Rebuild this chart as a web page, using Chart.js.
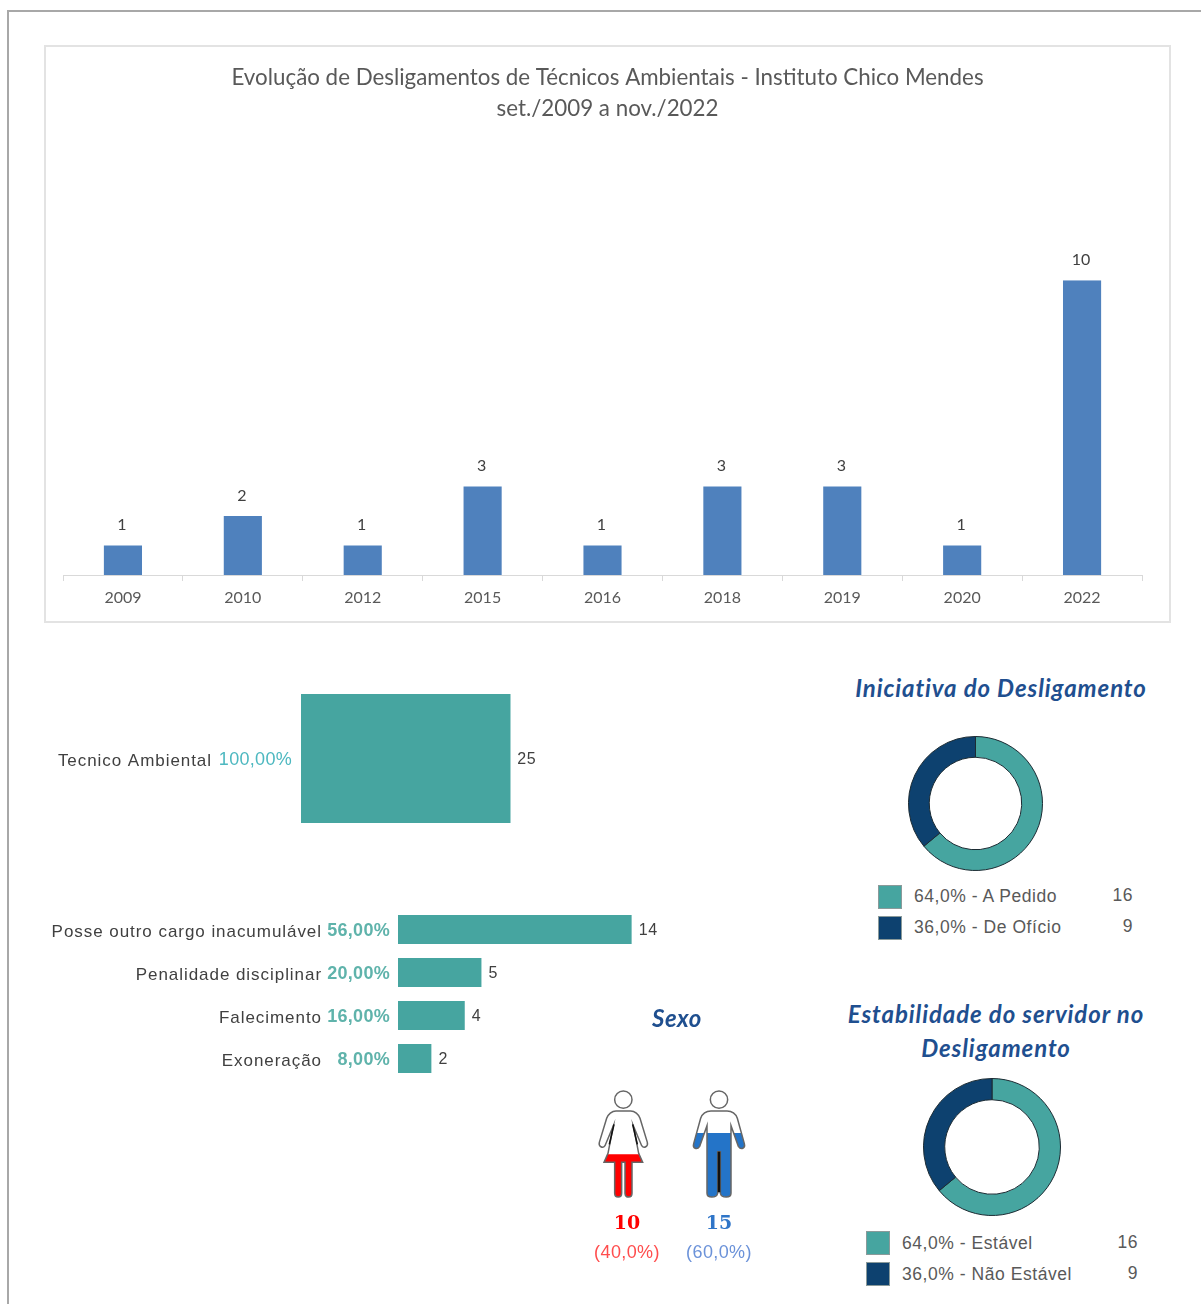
<!DOCTYPE html>
<html lang="pt">
<head>
<meta charset="utf-8">
<title>Desligamentos de Técnicos Ambientais</title>
<script src="https://cdn.jsdelivr.net/npm/chart.js@4/dist/chart.umd.min.js"></script>
<style>
    html, body { margin: 0; background: #fff; }
    body { position: relative; width: 1201px; height: 1304px; overflow: hidden; }
    canvas { position: absolute; }
    .frame { position: absolute; left: 7px; top: 10px; width: 1300px; height: 1400px; border-left: 2px solid #a8a8a8; border-top: 2px solid #a8a8a8; }
    .panel { position: absolute; left: 44px; top: 45px; width: 1123px; height: 574px; border: 2px solid #e3e3e3; }
    .heading { position: absolute; font: italic bold 24px Lato, sans-serif; color: #1f4f8f; text-align: center; line-height: 34px; white-space: nowrap; letter-spacing: 0.9px; }
    .count { position: absolute; text-align: center; white-space: nowrap; }
    .swatch { position: absolute; width: 22px; height: 22px; border: 1px solid #8a9a9a; }
    .leg { position: absolute; font: 17.5px "Liberation Sans", sans-serif; color: #595959; white-space: nowrap; letter-spacing: 0.55px; line-height: 24px; }
</style>
</head>
<body>
<div class="frame"></div>
<div class="panel"></div>

<canvas id="evolucao" style="left:45px;top:46px;width:1125px;height:576px"></canvas>
<canvas id="cargo" style="left:40px;top:680px;width:560px;height:160px"></canvas>
<canvas id="motivos" style="left:40px;top:900px;width:640px;height:190px"></canvas>
<canvas id="iniciativa" style="left:908px;top:736px;width:135px;height:135px"></canvas>
<canvas id="estabilidade" style="left:923px;top:1078px;width:138px;height:138px"></canvas>
<canvas id="mulher" style="left:590px;top:1085px;width:70px;height:118px"></canvas>
<canvas id="homem" style="left:685px;top:1085px;width:70px;height:118px"></canvas>

<div class="heading" style="left:800px;top:671px;width:402px">Iniciativa do Desligamento</div>
<div class="heading" style="left:795px;top:997px;width:402px">Estabilidade do servidor no<br>Desligamento</div>
<div class="heading" style="left:627px;top:1001px;width:100px;letter-spacing:0.5px">Sexo</div>
<div id="legendas"></div>
<div id="sexoTextos"></div>

<script>
// Dados
const anos = ['2009', '2010', '2012', '2015', '2016', '2018', '2019', '2020', '2022'];
const desligamentos = [1, 2, 1, 3, 1, 3, 3, 1, 10];

const cargos = ['Tecnico Ambiental'];
const cargosValores = [25];
const cargosPct = ['100,00%'];

const motivos = ['Posse outro cargo inacumulável', 'Penalidade disciplinar', 'Falecimento', 'Exoneração'];
const motivosValores = [14, 5, 4, 2];
const motivosPct = ['56,00%', '20,00%', '16,00%', '8,00%'];

const iniciativaNomes = ['A Pedido', 'De Ofício'];
const iniciativaValores = [16, 9];
const iniciativaPct = ['64,0%', '36,0%'];

const estabilidadeNomes = ['Estável', 'Não Estável'];
const estabilidadeValores = [16, 9];
const estabilidadePct = ['64,0%', '36,0%'];

const sexoValores = [10, 15];
const sexoPct = [40, 60];
const sexoPctTexto = ['(40,0%)', '(60,0%)'];

const TEAL = '#46a5a0';
const NAVY = '#0d416f';
const AZUL = '#4f81bd';

Chart.defaults.animation = false;
Chart.defaults.responsive = false;
Chart.defaults.plugins.legend.display = false;
Chart.defaults.plugins.tooltip.enabled = false;

// Rótulo de valor em cima das colunas
const rotuloColunas = {
    id: 'rotuloColunas',
    beforeDraw(chart) {
        // título centrado no painel, não na área do gráfico
        chart.titleBlock.left = 0;
        chart.titleBlock.right = chart.width;
    },
    afterDatasetsDraw(chart) {
        const ctx = chart.ctx;
        ctx.save();
        ctx.font = '16px Lato, sans-serif';
        ctx.fillStyle = '#404040';
        ctx.textAlign = 'center';
        ctx.textBaseline = 'middle';
        chart.getDatasetMeta(0).data.forEach((bar, i) => {
            ctx.fillText(desligamentos[i], bar.x - 1, bar.y - 20.5);
        });
        ctx.restore();
    }
};

new Chart(document.getElementById('evolucao'), {
    type: 'bar',
    data: {
        labels: anos,
        datasets: [{ data: desligamentos, backgroundColor: AZUL, barPercentage: 0.318, categoryPercentage: 1 }]
    },
    options: {
        layout: { padding: { left: 18, right: 28 } },
        plugins: {
            title: {
                display: true,
                text: ['Evolução de Desligamentos de Técnicos Ambientais - Instituto Chico Mendes', 'set./2009 a nov./2022'],
                color: '#595959',
                font: { family: 'Lato, sans-serif', size: 22.35, weight: 'normal', lineHeight: 1.39 },
                padding: { top: 16, bottom: 156 }
            }
        },
        scales: {
            y: { display: false, min: 0, max: 10 },
            x: {
                afterFit: s => { s.height = 47; },
                border: { color: '#d9d9d9' },
                grid: { offset: true, drawOnChartArea: false, color: '#d9d9d9', tickLength: 6 },
                ticks: { color: '#595959', padding: 7, font: { family: 'Lato, sans-serif', size: 16 }, maxRotation: 0 }
            }
        }
    },
    plugins: [rotuloColunas]
});

// Barras horizontais: percentual ao lado do nome e total depois da barra
function barrasHorizontais(id, nomes, valores, pct, opt) {
    const rotulos = {
        id: 'rotulos',
        beforeDraw(chart) { chart.ctx.letterSpacing = '0.95px'; },
        afterDatasetsDraw(chart) {
            const ctx = chart.ctx;
            ctx.save();
            ctx.textBaseline = 'middle';
            chart.getDatasetMeta(0).data.forEach((bar, i) => {
                ctx.textAlign = 'right';
                ctx.letterSpacing = '0.3px';
                ctx.font = opt.pctFont;
                ctx.fillStyle = opt.pctCor;
                ctx.fillText(pct[i], chart.chartArea.left - opt.pctGap, bar.y + 1.5);
                ctx.textAlign = 'left';
                ctx.letterSpacing = '0.75px';
                ctx.font = '16px "Liberation Sans", sans-serif';
                ctx.fillStyle = '#404040';
                ctx.fillText(valores[i], bar.x + 7, bar.y + 1.5);
            });
            ctx.restore();
        }
    };
    return new Chart(document.getElementById(id), {
        type: 'bar',
        data: {
            labels: nomes,
            datasets: [{ data: valores, backgroundColor: TEAL, barPercentage: opt.barra, categoryPercentage: 1 }]
        },
        options: {
            indexAxis: 'y',
            layout: { padding: opt.padding },
            scales: {
                x: { display: false, min: 0, max: opt.max },
                y: {
                    // a folga grande dos ticks nao pode encolher a altura do grafico
                    afterFit: s => { s.width = opt.eixo; s.paddingTop = 0; s.paddingBottom = 0; },
                    border: { display: false },
                    grid: { display: false },
                    ticks: { color: '#404040', padding: opt.folga, labelOffset: 2.5, font: { family: '"Liberation Sans", sans-serif', size: 17 } }
                }
            }
        },
        plugins: [rotulos]
    });
}

barrasHorizontais('cargo', cargos, cargosValores, cargosPct, {
    max: 30, eixo: 261, folga: 81, barra: 1, pctGap: 9,
    pctFont: '18px "Liberation Sans", sans-serif', pctCor: '#4db8c0',
    padding: { top: 14, bottom: 17, right: 48 }
});
barrasHorizontais('motivos', motivos, motivosValores, motivosPct, {
    max: 16, eixo: 358, folga: 68, barra: 0.674, pctGap: 8,
    pctFont: 'bold 18px "Liberation Sans", sans-serif', pctCor: '#5fb3ab',
    padding: { top: 8, bottom: 10, right: 15 }
});

function rosca(id, nomes, valores, corte) {
    new Chart(document.getElementById(id), {
        type: 'doughnut',
        data: {
            labels: nomes,
            datasets: [{ data: valores, backgroundColor: [TEAL, NAVY], borderColor: '#1c2b33', borderWidth: 1 }]
        },
        options: { cutout: corte }
    });
}
rosca('iniciativa', iniciativaNomes, iniciativaValores, '69%');
rosca('estabilidade', estabilidadeNomes, estabilidadeValores, '69%');

// Legendas das roscas
function legenda(x, y, nomes, pct, valores, direita, ajuste) {
    const box = document.getElementById('legendas');
    nomes.forEach((nome, i) => {
        const top = y + i * 31;
        box.insertAdjacentHTML('beforeend',
            '<div class="swatch" style="left:' + x + 'px;top:' + top + 'px;background:' + (i ? NAVY : TEAL) + '"></div>' +
            '<div class="leg" style="left:' + (x + 36) + 'px;top:' + (top + ajuste) + 'px">' + pct[i] + ' - ' + nome + '</div>' +
            '<div class="leg" style="right:' + (1201 - direita) + 'px;top:' + (top + ajuste - 1) + 'px">' + valores[i] + '</div>');
    });
}
legenda(878, 885, iniciativaNomes, iniciativaPct, iniciativaValores, 1133, -1);
legenda(866, 1231, estabilidadeNomes, estabilidadePct, estabilidadeValores, 1138, 0);

// Pictogramas: uma barra de 0 a 100 recortada pela silhueta
const ESCALA = new DOMMatrix().scale(1 / 3);
const cabecaMulher = 'M126 44a26 26 0 1 1-52 0a26 26 0 1 1 52 0Z';
const corpoMulher = 'M78 78H122C134 78 146 88 150 100L172 172C175 184 162 192 155 182L130 122L146 205L158 232H126V325C126 340 106 340 105 325V232H95V325C95 340 74 340 74 325V232H42L54 205L70 122L45 182C38 192 25 184 28 172L50 100C54 88 66 78 78 78Z';
const fendasMulher = 'M72 118L58 178M128 118L142 178';
const cabecaHomem = 'M128 44a26 26 0 1 1-52 0a26 26 0 1 1 52 0Z';
const corpoHomem = 'M78 78H126C140 78 152 86 157 100L178 176C182 190 168 196 160 184L138 122V325C138 340 110 340 106 325V200H98V325C94 340 66 340 66 325V122L44 184C36 196 22 190 26 176L47 100C52 86 64 78 78 78Z';
const fendaHomem = 'M102 200V322';

function escalar(d) {
    const p = new Path2D();
    p.addPath(new Path2D(d), ESCALA);
    return p;
}

function pictograma(id, pct, cor, cabeca, corpo, fendas, larguraFenda) {
    const pCabeca = escalar(cabeca), pCorpo = escalar(corpo), pFendas = escalar(fendas);
    const silhueta = {
        id: 'silhueta',
        beforeDatasetsDraw(chart) {
            chart.ctx.save();
            chart.ctx.clip(pCorpo);
        },
        afterDatasetsDraw(chart) {
            const ctx = chart.ctx;
            ctx.restore();
            ctx.save();
            ctx.strokeStyle = '#666';
            ctx.lineWidth = 1.5;
            ctx.stroke(pCabeca);
            ctx.stroke(pCorpo);
            ctx.strokeStyle = '#111';
            ctx.lineWidth = larguraFenda;
            ctx.stroke(pFendas);
            ctx.restore();
        }
    };
    new Chart(document.getElementById(id), {
        type: 'bar',
        data: {
            labels: [''],
            datasets: [{ data: [pct], backgroundColor: cor, barPercentage: 1, categoryPercentage: 1 }]
        },
        options: {
            layout: { padding: { top: 6, bottom: 6 } },
            scales: {
                x: { display: false },
                y: { display: false, min: 0, max: 100 }
            }
        },
        plugins: [silhueta]
    });
}
pictograma('mulher', sexoPct[0], '#ff0000', cabecaMulher, corpoMulher, fendasMulher, 1.6);
pictograma('homem', sexoPct[1], '#2474c8', cabecaHomem, corpoHomem, fendaHomem, 2.6);

// Textos abaixo dos pictogramas
const sexoCores = ['#ff0000', '#2f75c8'];
const sexoCoresPct = ['#ff4d4d', '#6b92d9'];
const sexoCentros = [627, 719];
sexoValores.forEach((v, i) => {
    document.getElementById('sexoTextos').insertAdjacentHTML('beforeend',
        '<div class="count" style="left:' + (sexoCentros[i] - 50) + 'px;width:100px;top:1211px;font:bold 19px \'DejaVu Serif\',serif;color:' + sexoCores[i] + '">' + v + '</div>' +
        '<div class="count" style="left:' + (sexoCentros[i] - 50) + 'px;width:100px;top:1242px;font:18px \'Liberation Sans\',sans-serif;letter-spacing:0.4px;color:' + sexoCoresPct[i] + '">' + sexoPctTexto[i] + '</div>');
});
</script>
</body>
</html>
